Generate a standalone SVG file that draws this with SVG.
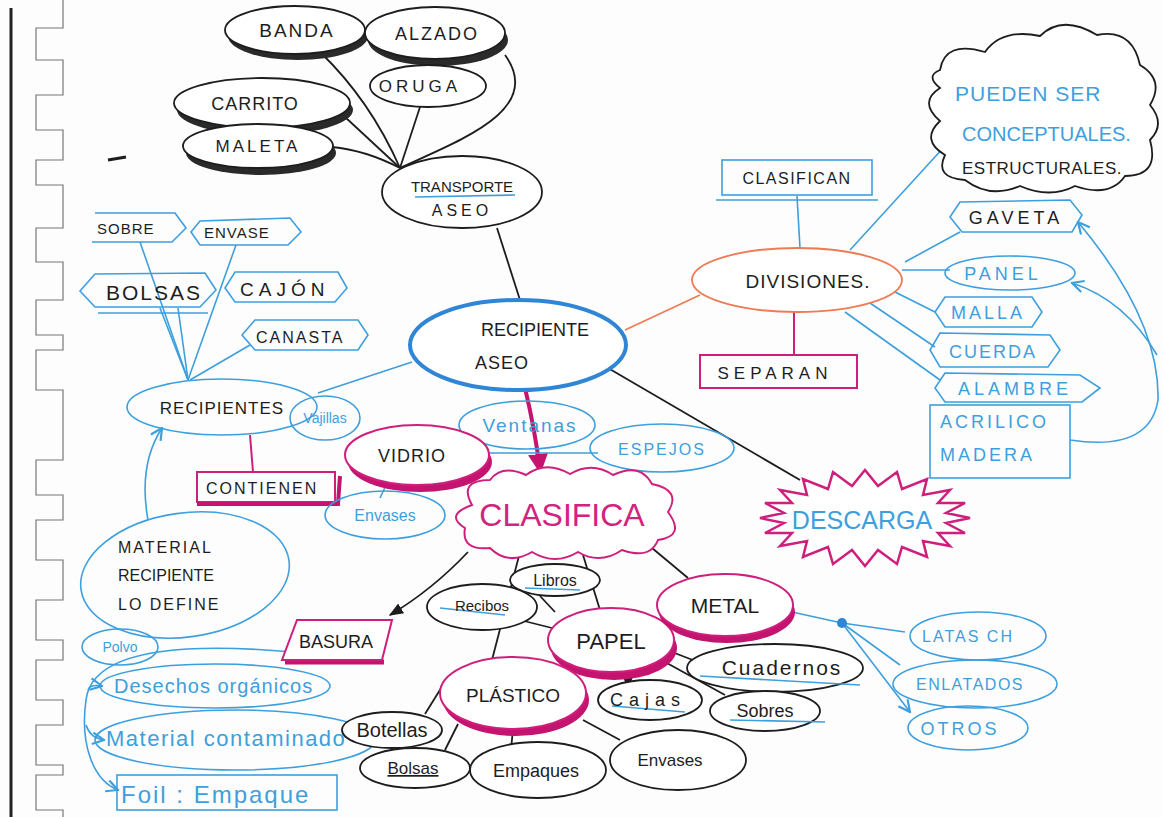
<svg xmlns="http://www.w3.org/2000/svg" width="1162" height="817" viewBox="0 0 1162 817">
<defs>
<style>
.k{stroke:#1d1d1d;fill:none;stroke-width:1.8}
.kf{stroke:#1d1d1d;fill:#fff;stroke-width:1.8}
.ks{fill:#2a2a2a;stroke:none}
.b{stroke:#3d9fdd;fill:none;stroke-width:1.6}
.bd{stroke:#2f86d4;fill:#fff;stroke-width:4}
.m{stroke:#cf1f7c;fill:none;stroke-width:2}
.mf{stroke:#cf1f7c;fill:#fff;stroke-width:2}
.ms{fill:#c4146f;stroke:none}
.o{stroke:#ee7b55;fill:none;stroke-width:1.8}
.of{stroke:#ee7b55;fill:#fff;stroke-width:1.8}
text{font-family:"Liberation Sans",Arial,sans-serif}
.tk{fill:#1d1d1d}
.tb{fill:#3d9fdd}
.tm{fill:#d2237f}
.c{text-anchor:middle}
</style>
<marker id="ak" viewBox="0 0 10 10" refX="9" refY="5" markerWidth="8" markerHeight="8" orient="auto"><path d="M0,1 L10,5 L0,9 Z" fill="#1d1d1d"/></marker>
<marker id="am" viewBox="0 0 10 10" refX="8" refY="5" markerWidth="5" markerHeight="5" orient="auto"><path d="M0,0 L10,5 L0,10 Z" fill="#c4146f"/></marker>
<marker id="ab" viewBox="0 0 10 10" refX="9" refY="5" markerWidth="9" markerHeight="9" orient="auto"><path d="M1,1 L9,5 L1,9" fill="none" stroke="#3d9fdd" stroke-width="1.5"/></marker>
</defs>
<rect x="0" y="0" width="1162" height="817" fill="#fdfdfd"/>
<g id="page-edge">
<line x1="11" y1="8" x2="11" y2="817" stroke="#222" stroke-width="3"/>
<path d="M63,0 L63,28 L36,28 L36,60 L63,60 L63,95 L36,95 L36,130 L63,130 L63,160 L36,160 L36,185 L63,185 L63,228 L36,228 L36,262 L63,262 L63,300 L36,300 L36,335 L63,335 L63,350 L36,350 L36,390 L63,390 L63,460 L36,460 L36,495 L63,495 L63,520 L36,520 L36,560 L63,560 L63,600 L36,600 L36,640 L63,640 L63,660 L36,660 L36,700 L63,700 L63,725 L36,725 L36,765 L63,765 L63,775 L36,775 L36,810 L63,810 L63,817" fill="none" stroke="#777" stroke-width="1.2"/>
<path d="M108,160 L126,157" stroke="#1d1d1d" stroke-width="3"/>
</g>
<g id="connectors">
<path class="k" d="M400,168 Q370,100 320,52"/>
<path class="k" d="M400,168 C460,140 545,110 505,55"/>
<path class="k" d="M400,168 L420,107"/>
<path class="k" d="M400,168 L345,117"/>
<path class="k" d="M400,168 Q365,150 332,147"/>
<path class="k" d="M497,228 L520,300" stroke-width="1.4"/>
<path class="b" d="M188,380 L140,242"/>
<path class="b" d="M188,380 L236,245"/>
<path class="b" d="M188,380 L160,308"/>
<path class="b" d="M188,380 L178,308"/>
<path class="b" d="M190,380 L250,345"/>
<path class="b" d="M318,393 L412,362"/>
<path class="m" d="M250,435 L253,472"/>
<path class="b" d="M148,520 Q138,465 162,428" marker-end="url(#ab)"/>
<path d="M525,388 Q535,430 540,470" stroke="#c4146f" stroke-width="4" fill="none" marker-end="url(#am)"/>
<path class="b" d="M387,483 L380,498" stroke-width="2.2"/>
<path class="b" d="M470,453 L598,453"/>
<path class="o" d="M625,330 L700,295"/>
<path class="b" d="M800,248 L797,196"/>
<path class="m" d="M794,312 L794,355"/>
<path class="b" d="M850,250 L955,135"/>
<path class="b" d="M905,262 L960,232"/>
<path class="b" d="M902,270 L950,270"/>
<path class="b" d="M885,287 L935,312"/>
<path class="b" d="M870,303 L935,347"/>
<path class="b" d="M845,312 L940,380"/>
<path class="b" d="M1070,440 Q1150,452 1158,400 Q1160,320 1078,222" marker-end="url(#ab)"/>
<path class="b" d="M1157,355 Q1125,300 1072,283" marker-end="url(#ab)"/>
<path class="k" d="M608,368 L800,480" stroke-width="1.4"/>
<path class="k" d="M468,552 Q432,590 390,615" stroke-width="1.4" marker-end="url(#ak)"/>
<path class="b" d="M292,652 C180,642 92,650 86,700 C80,742 92,780 118,790" stroke-width="2.2" marker-end="url(#ab)"/>
<path class="b" d="M88,690 Q90,684 102,686" marker-end="url(#ab)"/>
<path class="b" d="M86,725 Q90,738 104,740" marker-end="url(#ab)"/>
<path class="k" d="M520,552 L492,660" stroke-width="1.4"/>
<path class="k" d="M583,555 L600,610" stroke-width="1.4"/>
<path class="k" d="M640,538 L688,578" stroke-width="1.4"/>
<path class="k" d="M540,596 L555,612" stroke-width="2.2"/>
<path class="k" d="M520,620 L552,628" stroke-width="1.6"/>
<path class="k" d="M672,652 L698,662" stroke-width="1.6"/>
<path class="k" d="M628,672 L628,688" stroke-width="1.6" marker-end="url(#ak)"/>
<path class="k" d="M665,662 L725,695" stroke-width="1.4"/>
<path class="k" d="M443,685 L425,714" stroke-width="1.4"/>
<path class="k" d="M458,724 L445,750" stroke-width="1.4"/>
<path class="k" d="M513,729 L510,760" stroke-width="2"/>
<path class="k" d="M583,720 L620,740" stroke-width="1.4"/>
<path class="b" d="M792,612 L842,623"/>
<path class="b" d="M842,623 L905,632"/>
<path class="b" d="M842,623 L900,665"/>
<path class="b" d="M842,623 L910,712" marker-end="url(#ab)"/>
<circle cx="842" cy="623" r="5" fill="#2f86d4"/>
</g>
<g id="banda"><ellipse class="ks" cx="298" cy="36" rx="70" ry="24"/><ellipse class="kf" cx="295" cy="30" rx="70" ry="24"/><text class="tk c" x="297" y="37" font-size="19" letter-spacing="2">BANDA</text></g>
<g id="alzado"><ellipse class="ks" cx="438" cy="40" rx="70" ry="26"/><ellipse class="kf" cx="435" cy="33" rx="70" ry="26"/><text class="tk c" x="437" y="40" font-size="18" letter-spacing="2">ALZADO</text></g>
<g id="oruga"><ellipse class="kf" cx="428" cy="86" rx="58" ry="21"/><text class="tk c" x="420" y="92" font-size="17" letter-spacing="4">ORUGA</text></g>
<g id="carrito"><ellipse class="ks" cx="265" cy="110" rx="88" ry="25"/><ellipse class="kf" cx="262" cy="103" rx="88" ry="25"/><text class="tk c" x="255" y="110" font-size="18" letter-spacing="1">CARRITO</text></g>
<g id="maleta"><ellipse class="ks" cx="261" cy="153" rx="75" ry="22"/><ellipse class="kf" cx="258" cy="146" rx="75" ry="22"/><text class="tk c" x="258" y="152" font-size="17" letter-spacing="3">MALETA</text></g>
<g id="transporte"><ellipse class="kf" cx="462" cy="192" rx="80" ry="36"/><text class="tk c" x="462" y="192" font-size="15">TRANSPORTE</text><path class="b" d="M415,197 L515,195"/><text class="tk c" x="462" y="216" font-size="16" letter-spacing="4">ASEO</text></g>
<g id="recipiente-aseo"><ellipse class="bd" cx="518" cy="345" rx="108" ry="45"/><text class="tk c" x="535" y="336" font-size="18">RECIPIENTE</text><text class="tk c" x="502" y="369" font-size="18" letter-spacing="1">ASEO</text></g>
<g id="sobre"><path class="b" d="M95,213 L175,213 L186,228 L172,242 L92,242"/><text class="tk" x="97" y="234" font-size="15" letter-spacing="1">SOBRE</text></g>
<g id="envase"><path class="b" d="M200,221 L290,218 L301,232 L288,245 L200,245 L191,232 Z"/><text class="tk" x="204" y="238" font-size="15" letter-spacing="1">ENVASE</text></g>
<g id="bolsas"><path class="b" d="M95,274 L205,273 L216,290 L200,307 L95,307 L80,291 Z"/><path class="b" d="M98,313 L208,313"/><text class="tk" x="106" y="300" font-size="21" letter-spacing="2">BOLSAS</text></g>
<g id="cajon"><path class="b" d="M235,272 L338,272 L347,288 L335,302 L235,302 L225,288 Z"/><text class="tk" x="240" y="296" font-size="19" letter-spacing="5">CAJÓN</text></g>
<g id="canasta"><path class="b" d="M255,320 L358,320 L368,335 L358,350 L255,350 L242,335 Z"/><text class="tk" x="256" y="343" font-size="16" letter-spacing="2">CANASTA</text></g>
<g id="recipientes"><ellipse class="b" cx="222" cy="407" rx="95" ry="28"/><text class="tk c" x="222" y="414" font-size="17" letter-spacing="1">RECIPIENTES</text></g>
<g id="vajillas"><ellipse class="b" cx="325" cy="418" rx="35" ry="22"/><text class="tb c" x="325" y="423" font-size="14">Vajillas</text></g>
<g id="contienen"><rect class="m" x="197" y="472" width="138" height="30"/><path d="M197,504 L338,504 L340,476" stroke="#c4146f" stroke-width="4" fill="none"/><text class="tk" x="206" y="494" font-size="16" letter-spacing="2">CONTIENEN</text></g>
<g id="ventanas"><ellipse class="b" cx="527" cy="425" rx="68" ry="24"/><text class="tb c" x="530" y="432" font-size="19" letter-spacing="2">Ventanas</text></g>
<g id="espejos"><ellipse class="b" cx="662" cy="448" rx="72" ry="24"/><text class="tb c" x="662" y="455" font-size="16" letter-spacing="2">ESPEJOS</text></g>
<g id="vidrio"><ellipse class="ms" cx="420" cy="462" rx="72" ry="30"/><ellipse class="mf" cx="417" cy="455" rx="72" ry="30"/><text class="tk c" x="412" y="462" font-size="18" letter-spacing="1">VIDRIO</text></g>
<g id="envases-vidrio"><ellipse class="b" cx="385" cy="515" rx="60" ry="24"/><text class="tb c" x="385" y="521" font-size="16">Envases</text></g>
<g id="clasifica"><path class="mf" d="M472,505 Q458,480 490,480 Q502,464 526,475 Q546,460 570,474 Q592,461 613,475 Q640,462 652,484 Q682,490 668,512 Q686,536 658,540 Q650,560 622,550 Q600,565 578,552 Q555,566 532,552 Q508,566 490,548 Q461,551 465,528 Q444,515 472,505 Z"/><text class="tm c" x="562" y="526" font-size="32">CLASIFICA</text></g>
<g id="divisiones"><ellipse class="of" cx="797" cy="280" rx="105" ry="32"/><text class="tk c" x="808" y="288" font-size="19" letter-spacing="1">DIVISIONES.</text></g>
<g id="clasifican"><rect class="b" x="722" y="160" width="150" height="35"/><path class="b" d="M716,200 L878,200"/><text class="tk c" x="797" y="184" font-size="16" letter-spacing="1.5">CLASIFICAN</text></g>
<g id="separan"><rect class="m" x="700" y="355" width="157" height="33" stroke-width="1.6"/><text class="tk c" x="775" y="379" font-size="17" letter-spacing="5">SEPARAN</text></g>
<g id="pueden-ser"><path class="kf" d="M940,70 Q945,40 985,52 Q1002,28 1040,36 Q1062,14 1097,35 Q1132,28 1140,65 Q1165,80 1150,105 Q1166,124 1150,140 Q1160,176 1125,176 Q1110,198 1075,186 Q1050,199 1020,186 Q990,199 965,180 Q934,178 945,155 Q920,140 940,121 Q918,102 940,88 Q925,76 940,70 Z"/><text class="tb" x="955" y="101" font-size="21" letter-spacing="1">PUEDEN SER</text><text class="tb" x="962" y="141" font-size="20">CONCEPTUALES.</text><text class="tk" x="962" y="174" font-size="17" letter-spacing="0.5">ESTRUCTURALES.</text></g>
<g id="gaveta"><path class="b" d="M960,202 L1070,200 L1082,215 L1072,232 L962,232 L950,217 Z"/><text class="tk c" x="1016" y="224" font-size="18" letter-spacing="4">GAVETA</text></g>
<g id="panel"><ellipse class="b" cx="1010" cy="273" rx="65" ry="17"/><text class="tb c" x="1003" y="280" font-size="18" letter-spacing="4">PANEL</text></g>
<g id="malla"><path class="b" d="M945,297 L1032,297 L1042,312 L1032,327 L945,327 L935,312 Z"/><text class="tb c" x="988" y="319" font-size="18" letter-spacing="3">MALLA</text></g>
<g id="cuerda"><path class="b" d="M940,333 L1050,335 L1060,350 L1048,367 L940,367 L930,350 Z"/><text class="tb c" x="993" y="358" font-size="18" letter-spacing="2">CUERDA</text></g>
<g id="alambre"><path class="b" d="M945,373 L1080,375 L1100,388 L1082,402 L945,402 L935,388 Z"/><text class="tb c" x="1015" y="395" font-size="18" letter-spacing="4">ALAMBRE</text></g>
<g id="acrilico-madera"><rect class="b" x="930" y="405" width="140" height="73"/><text class="tb" x="940" y="428" font-size="18" letter-spacing="3">ACRILICO</text><text class="tb" x="940" y="461" font-size="18" letter-spacing="3">MADERA</text></g>
<g id="descarga"><polygon points="970,518 946,523 965,533 938,533 950,546 923,541 927,557 902,547 897,564 878,550 865,566 852,550 833,564 828,547 803,557 807,541 780,546 792,533 765,533 784,523 760,518 784,513 765,503 792,503 780,490 807,495 803,479 828,489 833,472 852,486 865,470 878,486 897,472 902,489 927,479 923,495 950,490 938,503 965,503 946,513" fill="#fff" stroke="#cf1f7c" stroke-width="2.5"/><text class="tb c" x="862" y="529" font-size="25">DESCARGA</text></g>
<g id="basura"><path d="M285,662 L384,662" stroke="#c4146f" stroke-width="5"/><path class="mf" d="M297,620 L392,620 L382,660 L282,660 Z"/><text class="tk c" x="336" y="648" font-size="18">BASURA</text></g>
<g id="material-recipiente"><ellipse class="b" cx="185" cy="575" rx="105" ry="62" transform="rotate(-8 185 575)"/><text class="tk" x="118" y="553" font-size="16" letter-spacing="2">MATERIAL</text><text class="tk" x="118" y="581" font-size="16">RECIPIENTE</text><text class="tk" x="118" y="610" font-size="16" letter-spacing="2">LO DEFINE</text></g>
<g id="polvo"><ellipse class="b" cx="120" cy="647" rx="38" ry="18"/><text class="tb c" x="120" y="652" font-size="14">Polvo</text></g>
<g id="desechos"><ellipse class="b" cx="215" cy="686" rx="115" ry="22"/><text class="tb" x="114" y="693" font-size="20" letter-spacing="1">Desechos orgánicos</text></g>
<g id="material-contaminado"><ellipse class="b" cx="235" cy="740" rx="140" ry="30"/><text class="tb" x="106" y="746" font-size="22" letter-spacing="1.5">Material contaminado</text></g>
<g id="foil"><rect class="b" x="117" y="775" width="220" height="35"/><text class="tb" x="121" y="803" font-size="24" letter-spacing="2">Foil : Empaque</text></g>
<g id="libros"><ellipse class="kf" cx="555" cy="580" rx="45" ry="16"/><path class="b" d="M525,588 L580,590"/><text class="tk c" x="555" y="586" font-size="16">Libros</text></g>
<g id="recibos"><ellipse class="kf" cx="482" cy="607" rx="55" ry="23"/><path class="b" d="M440,608 L505,615"/><text class="tk c" x="482" y="611" font-size="15">Recibos</text></g>
<g id="papel"><ellipse class="ms" cx="614" cy="648" rx="63" ry="32"/><ellipse class="mf" cx="611" cy="640" rx="63" ry="32"/><text class="tk c" x="611" y="649" font-size="22">PAPEL</text></g>
<g id="metal"><ellipse class="ms" cx="727" cy="612" rx="68" ry="31"/><ellipse class="mf" cx="725" cy="605" rx="68" ry="31"/><text class="tk c" x="725" y="613" font-size="21">METAL</text></g>
<g id="plastico"><ellipse class="ms" cx="516" cy="700" rx="73" ry="36"/><ellipse class="mf" cx="513" cy="693" rx="73" ry="36"/><text class="tk c" x="513" y="702" font-size="19">PLÁSTICO</text></g>
<g id="cuadernos"><ellipse class="kf" cx="775" cy="668" rx="88" ry="24"/><path class="b" d="M700,676 L860,685"/><text class="tk c" x="782" y="675" font-size="21" letter-spacing="2">Cuadernos</text></g>
<g id="cajas"><ellipse class="kf" cx="650" cy="700" rx="52" ry="20"/><path class="b" d="M612,706 L685,712"/><text class="tk c" x="648" y="706" font-size="18" letter-spacing="6">Cajas</text></g>
<g id="sobres"><ellipse class="kf" cx="765" cy="711" rx="55" ry="20"/><path class="b" d="M730,720 L825,722"/><text class="tk c" x="765" y="717" font-size="18">Sobres</text></g>
<g id="envases-plastico"><ellipse class="kf" cx="678" cy="760" rx="68" ry="30"/><text class="tk c" x="670" y="766" font-size="17">Envases</text></g>
<g id="botellas"><ellipse class="kf" cx="392" cy="730" rx="50" ry="18"/><text class="tk c" x="392" y="737" font-size="20">Botellas</text></g>
<g id="bolsas-plastico"><ellipse class="kf" cx="415" cy="768" rx="55" ry="20"/><text class="tk c" x="413" y="774" font-size="17" text-decoration="underline">Bolsas</text></g>
<g id="empaques"><ellipse class="kf" cx="538" cy="770" rx="68" ry="28"/><text class="tk c" x="536" y="777" font-size="18">Empaques</text></g>
<g id="latas"><ellipse class="b" cx="978" cy="636" rx="68" ry="24"/><text class="tb c" x="968" y="642" font-size="16" letter-spacing="2">LATAS CH</text></g>
<g id="enlatados"><ellipse class="b" cx="975" cy="684" rx="82" ry="24"/><text class="tb c" x="970" y="690" font-size="16" letter-spacing="1.5">ENLATADOS</text></g>
<g id="otros"><ellipse class="b" cx="968" cy="728" rx="60" ry="22"/><text class="tb c" x="960" y="735" font-size="18" letter-spacing="3">OTROS</text></g>
</svg>
